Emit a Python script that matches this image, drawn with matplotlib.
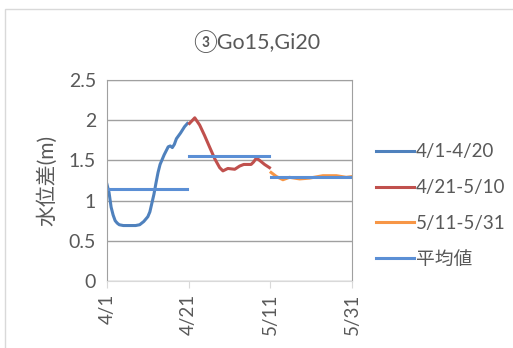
import matplotlib
matplotlib.use('Agg')
import matplotlib.pyplot as plt
from matplotlib.patches import Rectangle

# days counted from 4/1
days_a = [0, 0.5, 1, 1.5, 2, 2.5, 3, 4, 5, 6, 7, 8, 9, 10, 10.5, 11, 11.5, 12,
          12.5, 13, 14, 15, 15.5, 16, 16.5, 17, 18, 19, 19.7]
vals_a = [1.20, 1.10, 0.92, 0.82, 0.75, 0.72, 0.70, 0.69, 0.69, 0.69, 0.69, 0.70,
          0.74, 0.80, 0.86, 0.97, 1.08, 1.22, 1.35, 1.45, 1.57, 1.67, 1.68, 1.66,
          1.70, 1.77, 1.84, 1.92, 1.96]

days_b = [20.2, 21.5, 22.7, 23.9, 25.1, 26.4, 27.6, 28.4, 29.6, 31.3, 32.5, 33.5,
          35.3, 35.9, 36.6, 37.4, 38.6, 39.8]
vals_b = [1.96, 2.03, 1.94, 1.81, 1.67, 1.52, 1.41, 1.37, 1.40, 1.39, 1.43, 1.45,
          1.45, 1.48, 1.53, 1.50, 1.45, 1.41]

days_c = [40.2, 41.5, 43.1, 44.7, 47.2, 49.6, 52.9, 56.2, 58.6, 60.2]
vals_c = [1.35, 1.30, 1.26, 1.29, 1.27, 1.28, 1.31, 1.31, 1.29, 1.30]

mean_spans = [(0.4, 19.7), (20.2, 39.8), (40.2, 60.6)]
mean_vals = [1.14, 1.56, 1.30]

tick_days = [0, 20, 40, 60]
tick_labels = ['4/1', '4/21', '5/11', '5/31']

fonts = ['Lato', 'Noto Sans CJK JP', 'DejaVu Sans']
plt.rcParams['font.family'] = fonts
txt = '#595959'

fig = plt.figure(figsize=(5.13, 3.48), dpi=100)
ax = fig.add_axes([0.2086, 0.1925, 0.686 - 0.2086, 0.770 - 0.1925])

fig.patches.append(Rectangle((5 / 513, -0.1), 1.2, 1 - 9 / 348 + 0.1,
                             transform=fig.transFigure, fill=False,
                             edgecolor='#d9d9d9', lw=1))

lw = 2.2
ax.plot(days_a, vals_a, color='#4F81BD', lw=lw, label='4/1-4/20')
ax.plot(days_b, vals_b, color='#C0504D', lw=lw, label='4/21-5/10')
ax.plot(days_c, vals_c, color='#F79646', lw=lw, label='5/11-5/31')
for i, (span, m) in enumerate(zip(mean_spans, mean_vals)):
    ax.plot(span, [m, m], color='#5B8FD5', lw=lw,
            label='平均値' if i == 0 else None)

ax.set_xlim(0, 60)
ax.set_ylim(0, 2.5)
ax.set_yticks([0, 0.5, 1, 1.5, 2, 2.5])
ax.set_yticklabels(['0', '0.5', '1', '1.5', '2', '2.5'])
ax.set_xticks(tick_days)
ax.set_xticklabels(tick_labels, rotation=90)
ax.grid(axis='y', color='#a0a0a0', lw=1)
ax.set_axisbelow(True)
for s in ['top', 'right', 'left']:
    ax.spines[s].set_color('#a0a0a0')
ax.spines['bottom'].set_color('#d9d9d9')
ax.tick_params(axis='y', length=0, pad=8, labelsize=14, labelcolor=txt)
ax.tick_params(axis='x', length=5, color='#d9d9d9', pad=4, labelsize=13.5,
               labelcolor=txt)

ax.set_ylabel('水位差(m)', fontsize=15, color=txt, labelpad=8)
fig.text(0.5, 0.882, '③Go15,Gi20', ha='center', va='center', fontsize=15.5,
         color=txt)

ax.legend(loc='center left', bbox_to_anchor=(1.03, 0.376), frameon=False,
          fontsize=13.5, labelcolor=txt, handlelength=2.0, handletextpad=0.1,
          labelspacing=1.0)

fig.savefig('out.png', dpi=100)
